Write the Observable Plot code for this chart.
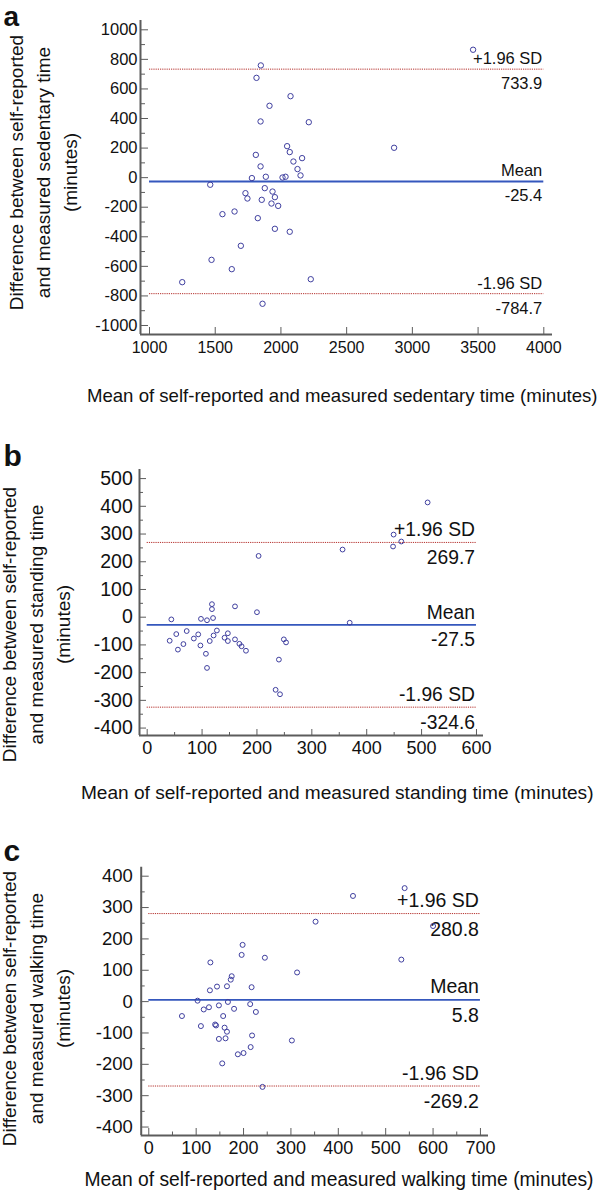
<!DOCTYPE html>
<html><head><meta charset="utf-8">
<script src="https://cdn.jsdelivr.net/npm/d3@7"></script>
<script src="https://cdn.jsdelivr.net/npm/@observablehq/plot@0.6"></script>
<style>
body{margin:0;background:#fff;}
#root{position:relative;width:600px;height:1198px;overflow:hidden;background:#fff;}
#root svg{position:absolute;left:0;overflow:visible;background:transparent;}
</style></head><body><div id="root"></div>
<script>
// ---- Panel a: sedentary time ----
const sedMean = [3462,1847,1814,2073,1913,1845,2212,2861,2047,2067,1809,2161,2095,1845,2126,2149,1779,1885,2012,2035,1462,1877,1936,1730,1954,1745,1854,1928,1979,1647,1555,1824,1954,2067,1695,1472,1626,2227,1249,1860];
const sedDiff = [865,759,675,551,486,380,375,202,213,173,154,132,109,76,58,15,-3,6,1,6,-48,-71,-94,-105,-132,-141,-150,-175,-191,-229,-247,-274,-346,-366,-461,-556,-619,-687,-707,-853];
const sedLimits = [733.9, -25.4, -784.7];
const sedXTicks = [1000,1500,2000,2500,3000,3500,4000];
const sedYTicks = [-1000,-800,-600,-400,-200,0,200,400,600,800,1000];
const sedYMinor = [-900,-700,-500,-300,-100,100,300,500,700,900];

// ---- Panel b: standing time ----
const standMean = [511,449,463,448,356,203,118,118,160,200,369,44,98,109,120,127,72,53,93,121,147,85,141,41,114,147,160,168,172,180,66,56,97,107,109,249,253,240,234,242];
const standDiff = [414,298,273,255,244,221,47,29,39,18,-20,-8,-6,-11,-3,-48,-50,-61,-62,-66,-58,-77,-74,-85,-86,-86,-80,-96,-105,-121,-97,-117,-102,-132,-183,-80,-91,-153,-262,-278];
const standLimits = [269.7, -27.5, -324.6];
const standXTicks = [0,100,200,300,400,500,600];
const standXMinor = [50,150,250,350,450,550];
const standYTicks = [-400,-300,-200,-100,0,100,200,300,400,500];
const standYMinor = [-350,-250,-150,-50,50,150,250,350,450];

// ---- Panel c: walking time ----
const walkMean = [540,431,352,600,198,196,245,533,130,313,175,173,165,144,217,129,103,167,214,127,116,148,180,226,70,157,110,140,142,160,165,148,162,218,302,215,188,200,155,240];
const walkDiff = [362,337,255,241,181,149,140,134,125,93,81,70,49,48,46,36,3,-1,-8,-18,-25,-12,-23,-33,-46,-46,-78,-73,-76,-83,-96,-119,-117,-108,-124,-145,-168,-164,-197,-272];
const walkLimits = [280.8, 5.8, -269.2];
const walkXTicks = [0,100,200,300,400,500,600,700];
const walkXMinor = [50,150,250,350,450,550,650];
const walkYTicks = [-400,-300,-200,-100,0,100,200,300,400];
const walkYMinor = [-350,-250,-150,-50,50,150,250,350];

const limitNames = ["+1.96 SD", "Mean", "-1.96 SD"];

const FONT = "'Liberation Sans', Arial, Helvetica, sans-serif";
const AXIS = "#5c5c5c";
const DOT = "#3f3f9f";
const MEANC = "#3557bd";
const SDC = "#b4302c";

function panel(c) {
  const mL = c.frame.x0, mR = 600 - c.frame.x1;
  const mT = c.frame.y0 - c.top, mB = c.top + c.H - c.frame.y1;
  const xPerPx = (c.xDom[1] - c.xDom[0]) / (c.frame.x1 - c.frame.x0);
  const yPerPx = (c.yDom[1] - c.yDom[0]) / (c.frame.y1 - c.frame.y0);
  const pts = c.xs.map((x, i) => ({x, y: c.ys[i]}));
  const x0 = c.xTicks[0], xEnd = c.xTicks[c.xTicks.length - 1];
  const tick = {stroke: AXIS, strokeWidth: 1};
  const marks = [
    // axis lines
    Plot.ruleX([c.xDom[0]], {stroke: AXIS, strokeWidth: 2}),
    Plot.ruleY([c.yDom[0]], {stroke: AXIS, strokeWidth: 2}),
    // ticks (inward)
    Plot.ruleX(c.xTicks, {x: d => d, y1: c.yDom[0], y2: c.yDom[0] + c.tk.xMaj * yPerPx, ...tick}),
    Plot.ruleY(c.yTicks, {y: d => d, x1: c.xDom[0], x2: c.xDom[0] + c.tk.yMaj * xPerPx, ...tick}),
    Plot.ruleY(c.yMinor, {y: d => d, x1: c.xDom[0], x2: c.xDom[0] + c.tk.yMin * xPerPx, ...tick}),
    // tick labels
    Plot.text(c.xTicks, {x: d => d, frameAnchor: "bottom", dy: c.lab.xdy, text: d => String(d), fontSize: c.lab.xfs}),
    Plot.text(c.yTicks, {y: d => d, frameAnchor: "left", textAnchor: "end", dx: c.lab.ydx, text: d => String(d), fontSize: c.lab.yfs}),
    // limit lines
    Plot.ruleY([c.limits[0], c.limits[2]], {y: d => d, x1: x0, x2: xEnd, stroke: SDC, strokeWidth: 1, strokeDasharray: "1.2,1"}),
    Plot.ruleY([c.limits[1]], {y: d => d, x1: x0, x2: xEnd, stroke: MEANC, strokeWidth: c.meanW}),
    // limit annotations
    Plot.text(c.limits, {x: () => xEnd, y: d => d, text: (d, i) => limitNames[i], textAnchor: "end", lineAnchor: "bottom", dx: -1.5, dy: c.ann.up, fontSize: c.ann.fs}),
    Plot.text(c.limits, {x: () => xEnd, y: d => d, text: d => d.toFixed(1), textAnchor: "end", lineAnchor: "bottom", dx: -1.5, dy: c.ann.down, fontSize: c.ann.fs}),
    // data points
    Plot.dot(pts, {x: "x", y: "y", r: c.r, stroke: DOT, fill: "none", strokeWidth: 1}),
    // axis titles
    Plot.text([c.yTitle], {frameAnchor: "left", rotate: -90, text: d => d, textAnchor: "middle", lineAnchor: "middle", lineHeight: 1.42, dx: c.yt.x - mL, dy: c.yt.y - (c.frame.y0 + c.frame.y1) / 2, fontSize: 19}),
    Plot.text([c.xTitle], {frameAnchor: "bottom-left", text: d => d, textAnchor: "end", lineAnchor: "bottom", dx: c.xt.x - mL, dy: c.xt.y - c.frame.y1, fontSize: c.xt.fs}),
    // panel letter
    Plot.text([c.letter], {frameAnchor: "top-left", text: d => d, textAnchor: "start", lineAnchor: "bottom", dx: 3 - mL, dy: c.letterY - c.frame.y0, fontSize: c.letterFs || 30, fontWeight: "bold"})
  ];
  if (c.xMinor) marks.splice(3, 0, Plot.ruleX(c.xMinor, {x: d => d, y1: c.yDom[0], y2: c.yDom[0] + c.tk.xMin * yPerPx, ...tick}));
  const svg = Plot.plot({
    width: 600, height: c.H,
    marginLeft: mL, marginRight: mR, marginTop: mT, marginBottom: mB,
    x: {domain: c.xDom, axis: null},
    y: {domain: c.yDom, axis: null},
    style: {fontFamily: FONT, background: "transparent", overflow: "visible", color: "#111"},
    marks
  });
  svg.style.top = c.top + "px";
  return svg;
}

const root = document.getElementById("root");

root.appendChild(panel({
  top: 0, H: 410,
  frame: {x0: 140, x1: 552, y0: 20, y1: 334},
  xDom: [931.5, 4066.2], yDom: [-1060.9, 1062.9],
  xs: sedMean, ys: sedDiff, limits: sedLimits,
  xTicks: sedXTicks, xMinor: null, yTicks: sedYTicks, yMinor: sedYMinor,
  tk: {xMaj: 7, xMin: 4, yMaj: 8, yMin: 5},
  lab: {xdy: 18, xfs: 16, ydx: -3, yfs: 16.5},
  ann: {fs: 16.5, up: -5, down: 20},
  meanW: 2, r: 2.7,
  yTitle: "Difference between self-reported\nand measured sedentary time\n(minutes)",
  yt: {x: 41, y: 172},
  xTitle: "Mean of self-reported and measured sedentary time (minutes)",
  xt: {x: 597, y: 401, fs: 18.6},
  letter: "a", letterY: 25, letterFs: 28
}));

root.appendChild(panel({
  top: 400, H: 400,
  frame: {x0: 139, x1: 483, y0: 469, y1: 735},
  xDom: [-14.0, 612.8], yDom: [-426.8, 532.8],
  xs: standMean, ys: standDiff, limits: standLimits,
  xTicks: standXTicks, xMinor: standXMinor, yTicks: standYTicks, yMinor: standYMinor,
  tk: {xMaj: 6, xMin: 3, yMaj: 7, yMin: 4},
  lab: {xdy: 18.5, xfs: 18, ydx: -6.7, yfs: 19.5},
  ann: {fs: 19.3, up: -6, down: 21.5},
  meanW: 1.8, r: 2.4,
  yTitle: "Difference between self-reported\nand measured standing time\n(minutes)",
  yt: {x: 34, y: 624},
  xTitle: "Mean of self-reported and measured standing time (minutes)",
  xt: {x: 593, y: 798, fs: 19.1},
  letter: "b", letterY: 465
}));

root.appendChild(panel({
  top: 790, H: 408,
  frame: {x0: 140.7, x1: 488, y0: 866.7, y1: 1135},
  xDom: [-16.0, 717.0], yDom: [-427.0, 428.7],
  xs: walkMean, ys: walkDiff, limits: walkLimits,
  xTicks: walkXTicks, xMinor: walkXMinor, yTicks: walkYTicks, yMinor: walkYMinor,
  tk: {xMaj: 7, xMin: 3.5, yMaj: 8, yMin: 4},
  lab: {xdy: 18.3, xfs: 18, ydx: -8.4, yfs: 18.5},
  ann: {fs: 19.5, up: -6.3, down: 22.3},
  meanW: 1.8, r: 2.5,
  yTitle: "Difference between self-reported\nand measured walking time\n(minutes)",
  yt: {x: 34, y: 1008},
  xTitle: "Mean of self-reported and measured walking time (minutes)",
  xt: {x: 593, y: 1185.5, fs: 19.3},
  letter: "c", letterY: 860
}));
</script>
</body></html>
